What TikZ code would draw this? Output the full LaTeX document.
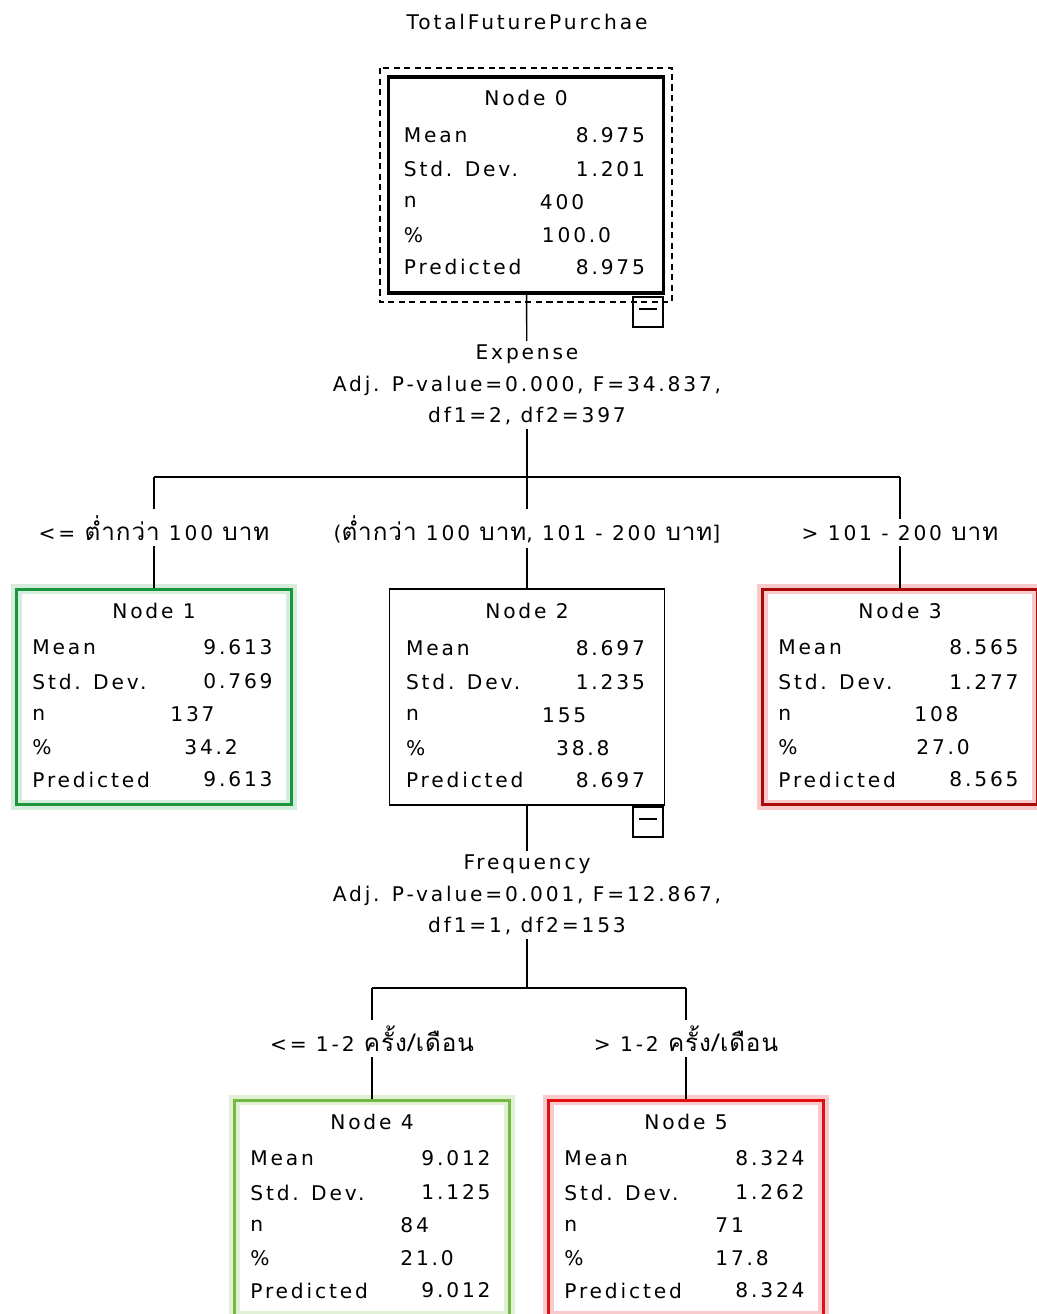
\documentclass[tikz,border=0pt]{standalone}
\usepackage{fontspec}
\setmainfont[LetterSpace=14]{DejaVu Sans}
\newfontfamily\thaifont[Script=Thai,LetterSpace=4,Scale=1.2]{Loma}
\usepackage{xcolor}
\usepackage{tikz}
\usetikzlibrary{calc}
\definecolor{goodgreen}{RGB}{26,150,60}
\definecolor{lightgreen}{RGB}{115,185,65}
\definecolor{darkred}{RGB}{170,10,10}
\definecolor{brightred}{RGB}{225,15,20}
\newcommand{\thai}[1]{{\thaifont #1}}
% rows of one tree box: name, mean, sd, n, x of n, %, x of %, predicted
\newcommand{\statrows}[8]{%
  \node[stat, anchor=west] (#1mean) at ($(#1.north west)+(17,60)$) {Mean};
  \node[stat, anchor=east] (#1meanv) at ($(#1.north east)+(-20,60)$) {#2};
  \node[stat, anchor=west] (#1sd) at ($(#1.north west)+(17,94)$) {Std. Dev.};
  \node[stat, anchor=east] (#1sdv) at ($(#1.north east)+(-20,94)$) {#3};
  \node[stat, anchor=west] (#1n) at ($(#1.north west)+(17,127)$) {n};
  \node[stat, anchor=west] (#1nv) at ($(#1.north west)+(#5,127)$) {#4};
  \node[stat, anchor=west] (#1pct) at ($(#1.north west)+(17,160)$) {\%};
  \node[stat, anchor=west] (#1pctv) at ($(#1.north west)+(#7,160)$) {#6};
  \node[stat, anchor=west] (#1pred) at ($(#1.north west)+(17,192)$) {Predicted};
  \node[stat, anchor=east] (#1predv) at ($(#1.north east)+(-20,192)$) {#8};
}

\begin{document}
\begin{tikzpicture}[
  x=0.02cm, y=-0.02cm,
  stat/.style={font=\fontsize{11.5}{13}\selectfont, inner sep=0pt},
  split/.style={font=\fontsize{11.5}{18}\selectfont, align=center, inner sep=2pt},
  cut/.style={font=\fontsize{11.5}{13}\selectfont, inner sep=3pt, anchor=base},
  box/.style={draw, minimum width=5.5cm, minimum height=4.32cm, inner sep=0pt},
  rootbox/.style={box, line width=2.2pt},
  midbox/.style={box, line width=0.9pt},
  goodbox/.style={box, draw=goodgreen, line width=1.7pt, preaction={draw=goodgreen!18, line width=6pt}},
  okbox/.style={box, draw=lightgreen, line width=1.7pt, preaction={draw=lightgreen!22, line width=6pt}},
  badbox/.style={box, draw=darkred, line width=1.7pt, preaction={draw=brightred!22, line width=6pt}},
  worstbox/.style={box, draw=brightred, line width=1.7pt, preaction={draw=brightred!22, line width=6pt}},
  minus/.style={draw, line width=0.6pt, minimum size=0.6cm, inner sep=0pt},
  conn/.style={line width=0.8pt},
]
\useasboundingbox (0,0) rectangle (1037,1314);

\node[stat] (title) at (527,22) {TotalFuturePurchae};

% root
\node[rootbox] (n0) at (526,185) {};
\draw[line width=1.1pt, dash pattern=on 3.5pt off 2.5pt] ($(n0.north west)+(-7,-7)$) rectangle ($(n0.south east)+(7,7)$);
\node[stat] (n0t) at ($(n0.north)+(0,23)$) {Node 0};
\statrows{n0}{8.975}{1.201}{400}{153}{100.0}{155}{8.975}
\node[minus] (m0) at (648,312) {};
\draw[line width=0.8pt] ($(m0.center)+(-9,-3)$) -- ($(m0.center)+(9,-3)$);

\node[split] (split0) at (527,385) {Expense\\Adj. P-value=0.000, F=34.837,\\df1=2, df2=397};
\coordinate (bar0) at (527,477);
\draw[conn] (n0) -- (split0);
\draw[conn] (split0) -- (bar0);

% first level
\node[goodbox] (n1) at (154,697) {};
\node[midbox] (n2) at (527,697) {};
\node[badbox] (n3) at (900,697) {};
\node[cut] (lab1) at (154,540) {<= \thai{ต่ำกว่า} 100 \thai{บาท}};
\node[cut] (lab2) at (527,540) {(\thai{ต่ำกว่า} 100 \thai{บาท}, 101 - 200 \thai{บาท}]};
\node[cut] (lab3) at (900,540) {> 101 - 200 \thai{บาท}};
\draw[conn] (n1 |- bar0) -- (n3 |- bar0);
\foreach \i in {1,2,3}{
  \draw[conn] (n\i |- bar0) -- (lab\i);
  \draw[conn] (lab\i) -- (n\i);
}
\node[stat] (n1t) at ($(n1.north)+(0,23)$) {Node 1};
\statrows{n1}{9.613}{0.769}{137}{155}{34.2}{169}{9.613}
\node[stat] (n2t) at ($(n2.north)+(0,23)$) {Node 2};
\statrows{n2}{8.697}{1.235}{155}{153}{38.8}{167}{8.697}
\node[stat] (n3t) at ($(n3.north)+(0,23)$) {Node 3};
\statrows{n3}{8.565}{1.277}{108}{153}{27.0}{155}{8.565}
\node[minus] (m2) at (648,822) {};
\draw[line width=0.8pt] ($(m2.center)+(-9,-3)$) -- ($(m2.center)+(9,-3)$);

\node[split] (split1) at (527,895) {Frequency\\Adj. P-value=0.001, F=12.867,\\df1=1, df2=153};
\coordinate (bar1) at (527,988);
\draw[conn] (n2) -- (split1);
\draw[conn] (split1) -- (bar1);

% second level
\node[okbox] (n4) at (372,1208) {};
\node[worstbox] (n5) at (686,1208) {};
\node[cut] (lab4) at (372,1051) {<= 1-2 \thai{ครั้ง/เดือน}};
\node[cut] (lab5) at (686,1051) {> 1-2 \thai{ครั้ง/เดือน}};
\draw[conn] (n4 |- bar1) -- (n5 |- bar1);
\foreach \i in {4,5}{
  \draw[conn] (n\i |- bar1) -- (lab\i);
  \draw[conn] (lab\i) -- (n\i);
}
\node[stat] (n4t) at ($(n4.north)+(0,23)$) {Node 4};
\statrows{n4}{9.012}{1.125}{84}{167}{21.0}{167}{9.012}
\node[stat] (n5t) at ($(n5.north)+(0,23)$) {Node 5};
\statrows{n5}{8.324}{1.262}{71}{168}{17.8}{168}{8.324}
\end{tikzpicture}
\end{document}
